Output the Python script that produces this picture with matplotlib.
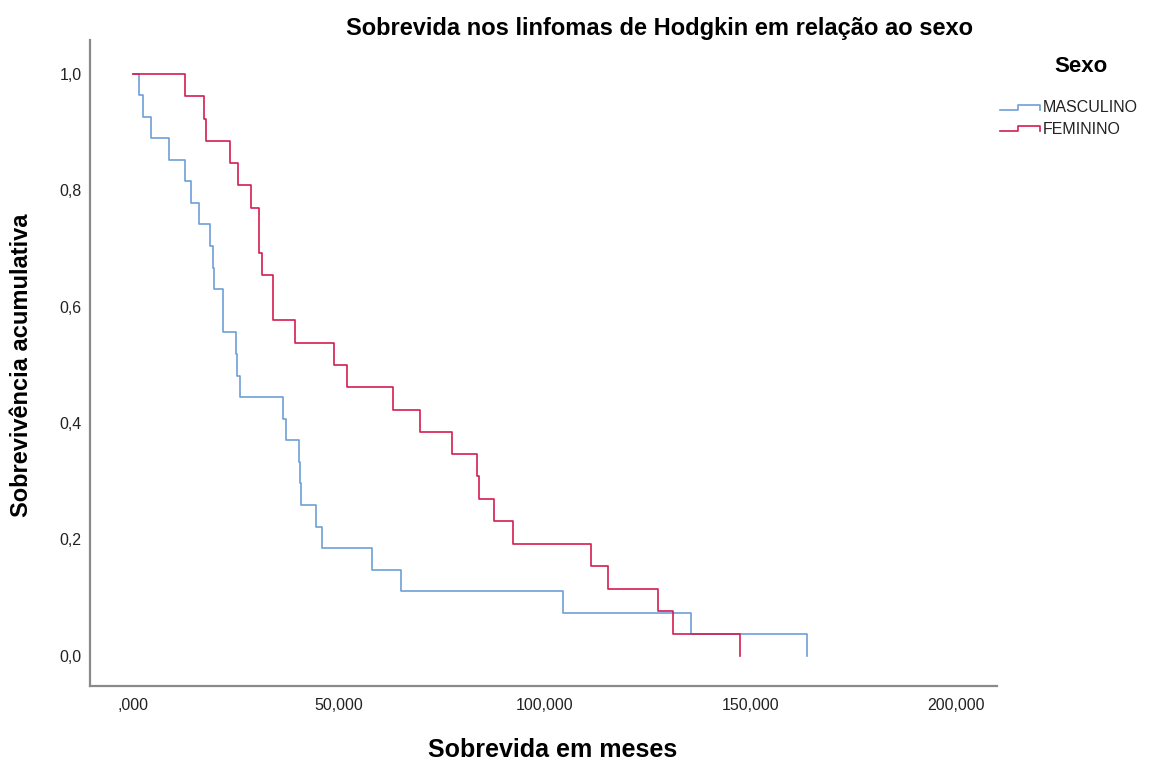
import matplotlib
matplotlib.use("Agg")
import matplotlib.pyplot as plt
from matplotlib.lines import Line2D

plt.rcParams['font.family'] = ['Liberation Sans', 'DejaVu Sans']

# Kaplan-Meier event times (months) and cumulative survival
masc_t = [0, 1300, 2350, 4300, 8800, 12600, 14000, 15900, 18700, 19500, 19700,
          21800, 21950, 25000, 25200, 26000, 36400, 37200, 40400, 40550, 40750,
          44500, 45850, 58000, 65000, 104500, 135500, 163700]
masc_s = [1.0, 0.963, 0.926, 0.889, 0.852, 0.815, 0.778, 0.741, 0.704, 0.667, 0.630,
          0.593, 0.556, 0.519, 0.481, 0.444, 0.407, 0.370, 0.333, 0.296, 0.259,
          0.222, 0.185, 0.148, 0.111, 0.074, 0.037, 0.0]

fem_t = [0, 12600, 17250, 17750, 23550, 25450, 28600, 30500, 30650, 31300, 33900,
         34100, 39400, 48850, 51950, 63100, 69750, 77450, 83500, 84150, 87700,
         92250, 111200, 115350, 127500, 131150, 147500]
fem_s = [1.0, 0.962, 0.923, 0.885, 0.846, 0.808, 0.769, 0.731, 0.692, 0.654, 0.615,
         0.577, 0.538, 0.500, 0.462, 0.423, 0.385, 0.346, 0.308, 0.269, 0.231,
         0.192, 0.154, 0.115, 0.077, 0.038, 0.0]

series_names = ["MASCULINO", "FEMININO"]
colors = ["#6f9fd8", "#d21e50"]

xticks = [0, 50000, 100000, 150000, 200000]
xtick_labels = [",000", "50,000", "100,000", "150,000", "200,000"]
yticks = [0.0, 0.2, 0.4, 0.6, 0.8, 1.0]
ytick_labels = ["0,0", "0,2", "0,4", "0,6", "0,8", "1,0"]

W, H = 1175, 766
fig = plt.figure(figsize=(W / 100, H / 100), dpi=100)
ax = fig.add_axes([90 / W, 1 - 686 / H, (997 - 90) / W, (686 - 40) / H])

ax.step(masc_t, masc_s, where="post", color=colors[0], lw=1.2)
ax.step(fem_t, fem_s, where="post", color=colors[1], lw=1.2)

ax.set_xlim(-10500, 210000)
ax.set_ylim(-0.052, 1.058)
ax.set_xticks(xticks)
ax.set_xticklabels(xtick_labels)
ax.set_yticks(yticks)
ax.set_yticklabels(ytick_labels)
ax.tick_params(length=0, labelsize=11.5, colors="#222222")
ax.tick_params(axis="x", pad=9)
ax.tick_params(axis="y", pad=6)
for s in ["top", "right"]:
    ax.spines[s].set_visible(False)
for s in ["left", "bottom"]:
    ax.spines[s].set_color("#8a8a8a")
    ax.spines[s].set_linewidth(1.6)

fig.text(659 / W, 1 - 28 / H, "Sobrevida nos linfomas de Hodgkin em relação ao sexo",
         ha="center", va="center", fontsize=17, fontweight="bold")
fig.text(22 / W, 1 - 365 / H, "Sobrevivência acumulativa", rotation=90,
         ha="center", va="center", fontsize=17, fontweight="bold")
fig.text(553 / W, 1 - 750 / H, "Sobrevida em meses",
         ha="center", va="center", fontsize=18, fontweight="bold")

# legend drawn by hand, with step-shaped keys
fig.text(1081 / W, 1 - 67 / H, "Sexo", ha="center", va="center",
         fontsize=16, fontweight="bold")
for i, (name, c) in enumerate(zip(series_names, colors)):
    yc = 108 + 21 * i
    xs = [1000, 1018, 1018, 1040, 1040]
    ys = [yc + 2, yc + 2, yc - 3, yc - 3, yc + 2]
    fig.add_artist(Line2D([x / W for x in xs], [1 - y / H for y in ys],
                          color=c, lw=1.2, transform=fig.transFigure))
    fig.text(1043 / W, 1 - yc / H, name, ha="left", va="center",
             fontsize=11.5, color="#222222")

fig.savefig("out.png", dpi=100)
